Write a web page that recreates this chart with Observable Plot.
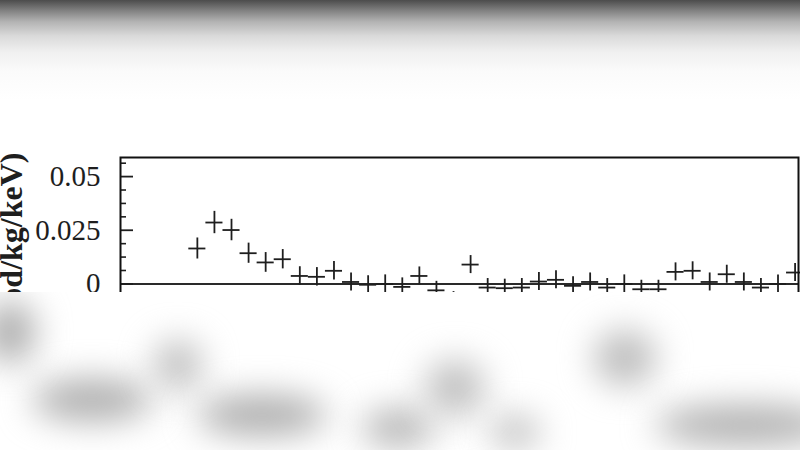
<!DOCTYPE html>
<html><head><meta charset="utf-8">
<script src="https://cdn.jsdelivr.net/npm/d3@7"></script>
<script src="https://cdn.jsdelivr.net/npm/@observablehq/plot@0.6"></script>
<style>
html,body{margin:0;padding:0;background:#fff;}
#wrap{position:relative;width:800px;height:450px;overflow:hidden;background:#fff;}
#chart{position:absolute;left:0;top:0;}
#topfade{position:absolute;left:0;top:0;width:800px;height:110px;
  background:linear-gradient(to bottom,#4c4c4c 0px,#7e7e7e 10px,#b4b4b4 22px,#dadada 36px,#f0f0f0 52px,#fbfbfb 72px,#ffffff 100px);}
#bottom{position:absolute;left:0;top:292px;width:800px;height:158px;background:#fff;overflow:hidden;}
.blob{position:absolute;border-radius:50%;filter:blur(17px);}
</style></head>
<body>
<div id="wrap"><div id="chart"></div><div id="topfade"></div><div id="bottom"></div></div>
<script>
// Energy bin centres (keV), bin width 0.5 keV
const energy = [2.25,2.75,3.25,3.75,4.25,4.75,5.25,5.75,6.25,6.75,7.25,7.75,8.25,8.75,9.25,9.75,10.25,10.75,
                11.25,11.75,12.25,12.75,13.25,13.75,14.25,14.75,15.25,15.75,16.25,16.75,17.25,17.75,18.25,18.75,19.25,19.75];
// Modulation amplitude Sm (cpd/kg/keV)
const sm = [0.0165,0.0286,0.0251,0.0143,0.0100,0.0115,0.0037,0.0033,0.0061,0.0009,-0.0004,0.0,-0.0014,0.0037,-0.0030,-0.0078,0.0090,-0.0017,
            -0.0020,-0.0017,0.0011,0.0019,-0.0009,0.0009,-0.0017,0.0,-0.0025,-0.0025,0.0056,0.0061,0.0009,0.0045,0.0009,-0.0017,0.0,0.0053];
const smErr = [0.0049,0.0052,0.0050,0.0047,0.0046,0.0045,0.0043,0.0043,0.0043,0.0042,0.0042,0.0042,0.0042,0.0042,0.0042,0.0042,0.0042,0.0042,
               0.0042,0.0042,0.0042,0.0042,0.0042,0.0042,0.0042,0.0042,0.0042,0.0042,0.0042,0.0042,0.0042,0.0042,0.0042,0.0042,0.0042,0.0042];
const binHalfWidth = 0.25;
const yTicksMajor = [-0.05,-0.025,0,0.025,0.05];
const yTickLabels = ["−0.05","−0.025","0","0.025","0.05"];
const yTicksMinor = [-0.04375,-0.0375,-0.03125,-0.01875,-0.0125,-0.00625,0.00625,0.0125,0.01875,0.03125,0.0375,0.04375,0.05625];
const xTicks = [0,5,10,15];
const yLabel = "Sm (cpd/kg/keV)";
const xLabel = "Energy (keV)";

const rows = energy.map((e, i) => ({x: e, y: sm[i], lo: sm[i] - smErr[i], hi: sm[i] + smErr[i],
  x0: e - binHalfWidth, x1: e + binHalfWidth}));

const yDomain = [-0.05, 0.0589];
const pxPerUnit = 2146;
const marginTop = 157;
const H = 450;
const marginBottom = H - marginTop - (yDomain[1] - yDomain[0]) * pxPerUnit;

const ink = "#1e1e1e";
const chart = Plot.plot({
  width: 800, height: H,
  marginLeft: 120, marginRight: 2, marginTop, marginBottom,
  style: {fontFamily: "'Liberation Serif', serif", fontSize: "29px", background: "transparent", color: ink},
  x: {domain: [0, 19.85], axis: null},
  y: {domain: yDomain, axis: null},
  marks: [
    Plot.ruleY([0], {stroke: "#2a2a2a", strokeWidth: 2}),
    Plot.ruleY(rows, {y: "y", x1: "x0", x2: "x1", stroke: ink, strokeWidth: 1.8}),
    Plot.ruleX(rows, {x: "x", y1: "lo", y2: "hi", stroke: ink, strokeWidth: 1.8}),
    Plot.axisY(yTicksMajor, {tickSize: -13, tickFormat: () => "", strokeWidth: 1.8, stroke: ink}),
    Plot.axisY(yTicksMinor, {tickSize: -6, tickFormat: () => "", strokeWidth: 1.6, stroke: ink}),
    Plot.axisY(yTicksMajor, {tickSize: 0, tickPadding: 20, label: null,
      tickFormat: d => yTickLabels[yTicksMajor.indexOf(d)], fill: ink, stroke: ink, strokeWidth: 0.6}),
    Plot.axisX(xTicks, {tickSize: -10, tickPadding: 4, fontSize: 20, label: null, fill: ink}),
    Plot.text([xLabel], {frameAnchor: "bottom", dy: 45, fontSize: 20, fill: ink}),
    Plot.text([yLabel], {frameAnchor: "top-left", rotate: -90, textAnchor: "end", dx: -121, dy: -5,
      fontWeight: "bold", fontSize: 32, fill: ink}),
    Plot.frame({stroke: "#111", strokeWidth: 2})
  ]
});
document.getElementById("chart").appendChild(chart);

// blurred lower band (decorative occlusion as in the reference)
const blobs = [
  [10,332,50,62,"#acacac"],[92,400,120,42,"#aeaeae"],[178,365,48,50,"#bebebe"],[262,415,130,40,"#acacac"],
  [398,428,72,38,"#b4b4b4"],[455,388,60,56,"#c0c0c0"],[515,432,50,32,"#bcbcbc"],[625,358,62,56,"#bdbdbd"],
  [745,425,180,40,"#b0b0b0"]
];
const bottom = document.getElementById("bottom");
for (const [cx, cy, w, h, c] of blobs) {
  const d = document.createElement("div");
  d.className = "blob";
  d.style.left = (cx - w / 2) + "px";
  d.style.top = (cy - 292 - h / 2) + "px";
  d.style.width = w + "px";
  d.style.height = h + "px";
  d.style.background = c;
  bottom.appendChild(d);
}
</script>
</body></html>
